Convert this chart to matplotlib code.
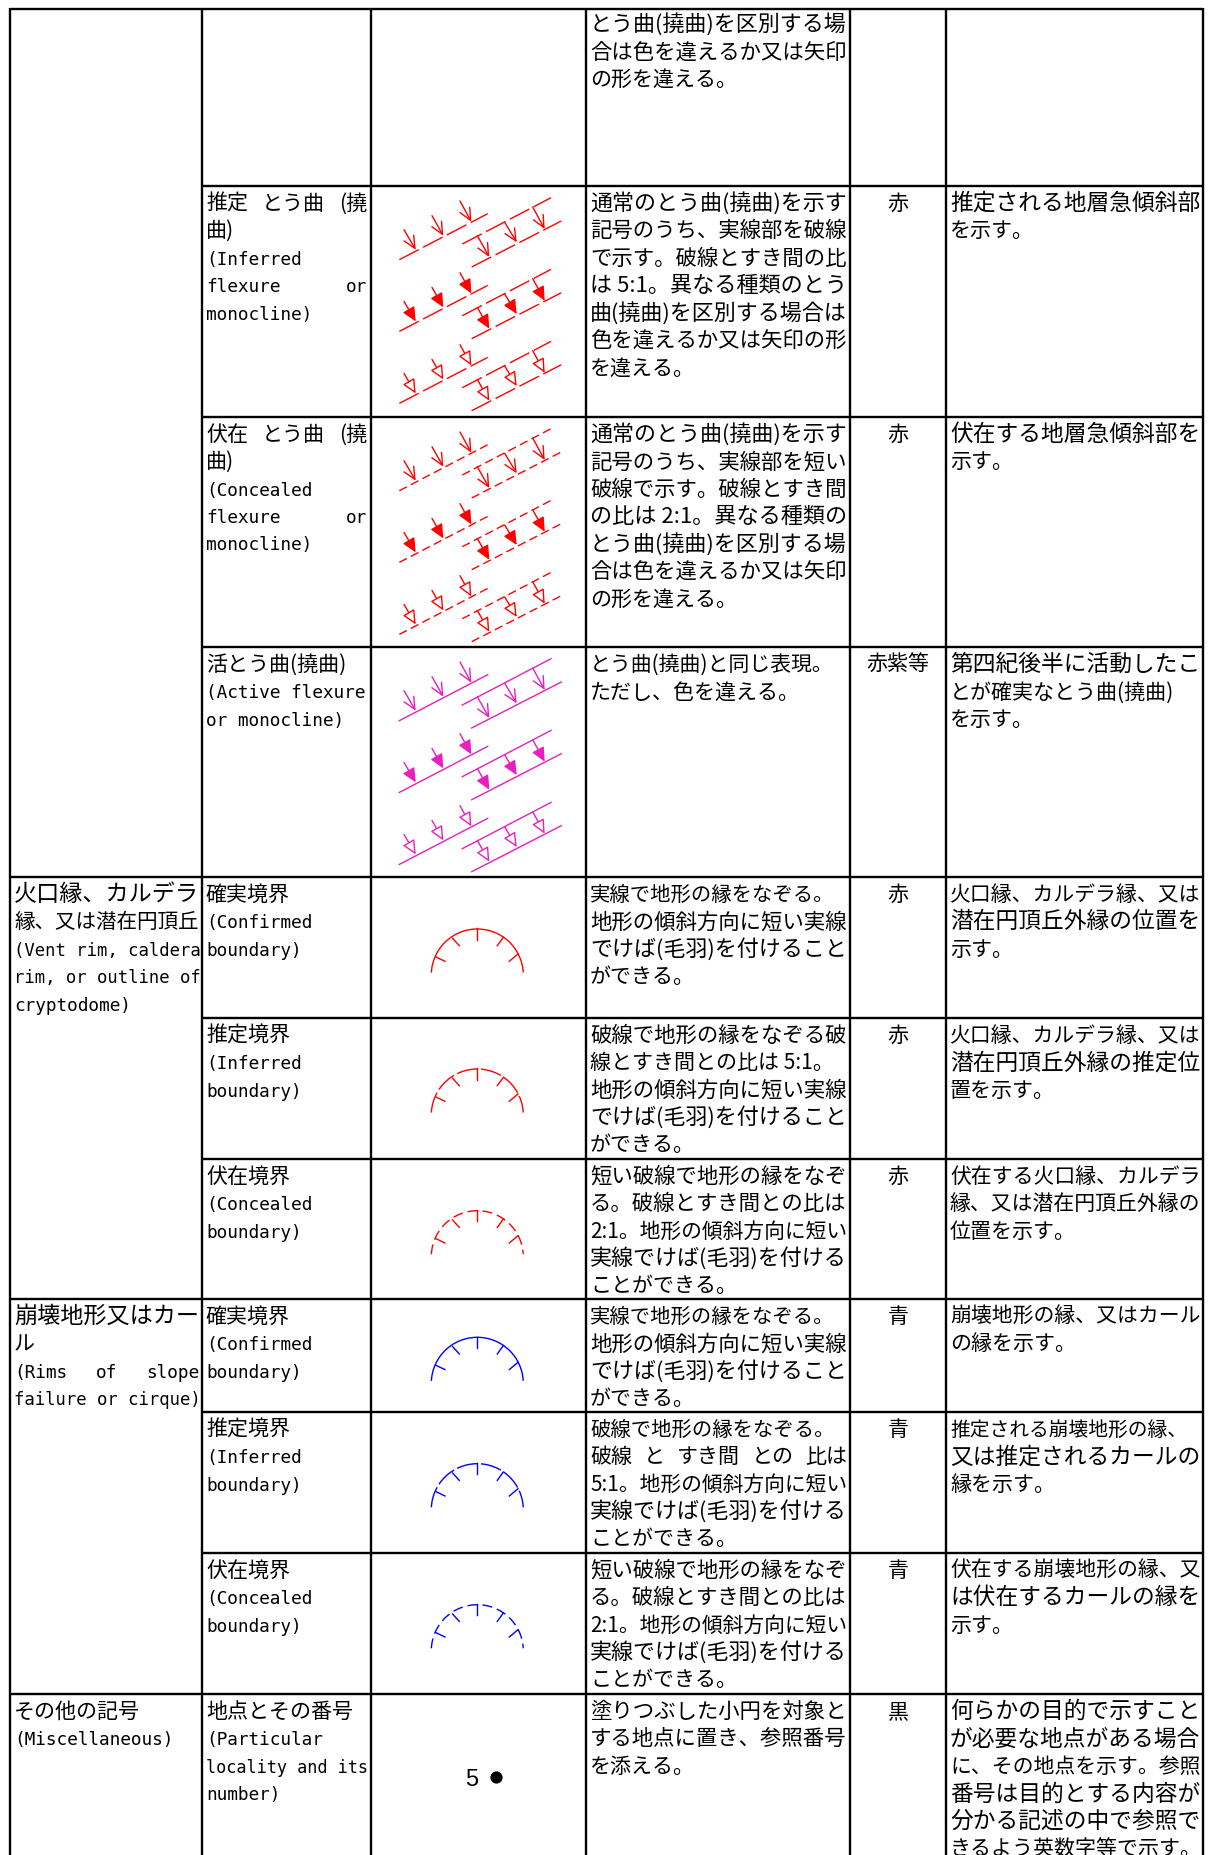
import matplotlib
matplotlib.use("Agg")
import matplotlib.pyplot as plt
from matplotlib.patches import Arc, FancyArrowPatch

# grid of the table, in pixels of the page
col_edges = [10, 202, 370.5, 586, 850, 946, 1203]
row_edges = [10, 186.7, 417.7, 648, 878, 1018.7, 1159.7, 1300, 1412.7, 1553.7, 1695]
col1_rules = [0, 4, 7, 10]
page_bottom = 1856

# text per row, "|" marks a line the original spreads over the full cell
group_text = {
    4: ["火口縁、カルデラ", "縁、又は潜在円頂丘", "(Vent rim, caldera", "rim, or outline of", "cryptodome)"],
    7: ["崩壊地形又はカー", "ル", "(Rims|of|slope", "failure or cirque)"],
    10: ["その他の記号", "(Miscellaneous)"],
}
name_text = [
    [],
    ["推定|とう曲|(撓", "曲)", "(Inferred", "flexure|or", "monocline)"],
    ["伏在|とう曲|(撓", "曲)", "(Concealed", "flexure|or", "monocline)"],
    ["活とう曲(撓曲)", "(Active flexure", "or monocline)"],
    ["確実境界", "(Confirmed", "boundary)"],
    ["推定境界", "(Inferred", "boundary)"],
    ["伏在境界", "(Concealed", "boundary)"],
    ["確実境界", "(Confirmed", "boundary)"],
    ["推定境界", "(Inferred", "boundary)"],
    ["伏在境界", "(Concealed", "boundary)"],
    ["地点とその番号", "(Particular", "locality and its", "number)"],
]
rule_text = [
    ["とう曲(撓曲)を区別する場", "合は色を違えるか又は矢印", "の形を違える。"],
    ["通常のとう曲(撓曲)を示す", "記号のうち、実線部を破線", "で示す。破線とすき間の比", "は 5:1。異なる種類のとう",
     "曲(撓曲)を区別する場合は", "色を違えるか又は矢印の形", "を違える。"],
    ["通常のとう曲(撓曲)を示す", "記号のうち、実線部を短い", "破線で示す。破線とすき間", "の比は 2:1。異なる種類の",
     "とう曲(撓曲)を区別する場", "合は色を違えるか又は矢印", "の形を違える。"],
    ["とう曲(撓曲)と同じ表現。", "ただし、色を違える。"],
    ["実線で地形の縁をなぞる。", "地形の傾斜方向に短い実線", "でけば(毛羽)を付けること", "ができる。"],
    ["破線で地形の縁をなぞる破", "線とすき間との比は 5:1。", "地形の傾斜方向に短い実線", "でけば(毛羽)を付けること", "ができる。"],
    ["短い破線で地形の縁をなぞ", "る。破線とすき間との比は", "2:1。地形の傾斜方向に短い", "実線でけば(毛羽)を付ける", "ことができる。"],
    ["実線で地形の縁をなぞる。", "地形の傾斜方向に短い実線", "でけば(毛羽)を付けること", "ができる。"],
    ["破線で地形の縁をなぞる。", "破線|と|すき間|との|比は", "5:1。地形の傾斜方向に短い", "実線でけば(毛羽)を付ける", "ことができる。"],
    ["短い破線で地形の縁をなぞ", "る。破線とすき間との比は", "2:1。地形の傾斜方向に短い", "実線でけば(毛羽)を付ける", "ことができる。"],
    ["塗りつぶした小円を対象と", "する地点に置き、参照番号", "を添える。"],
]
color_text = ["", "赤", "赤", "赤紫等", "赤", "赤", "赤", "青", "青", "青", "黒"]
note_text = [
    [],
    ["推定される地層急傾斜部", "を示す。"],
    ["伏在する地層急傾斜部を", "示す。"],
    ["第四紀後半に活動したこ", "とが確実なとう曲(撓曲)", "を示す。"],
    ["火口縁、カルデラ縁、又は", "潜在円頂丘外縁の位置を", "示す。"],
    ["火口縁、カルデラ縁、又は", "潜在円頂丘外縁の推定位", "置を示す。"],
    ["伏在する火口縁、カルデラ", "縁、又は潜在円頂丘外縁の", "位置を示す。"],
    ["崩壊地形の縁、又はカール", "の縁を示す。"],
    ["推定される崩壊地形の縁、", "又は推定されるカールの", "縁を示す。"],
    ["伏在する崩壊地形の縁、又", "は伏在するカールの縁を", "示す。"],
    ["何らかの目的で示すこと", "が必要な地点がある場合", "に、その地点を示す。参照", "番号は目的とする内容が",
     "分かる記述の中で参照で", "きるよう英数字等で示す。"],
]

# flexure symbols: three fold lines and six arrows, repeated three times per cell
flex_lines = [
    [(399.3, 260.7), (487.7, 214.7)],
    [(462.3, 245.0), (551.0, 198.7)],
    [(471.7, 268.0), (561.3, 222.0)],
]
flex_tails = [(404.0, 230.7), (432.0, 216.7), (460.0, 202.0), (477.3, 236.7), (504.7, 223.3), (532.7, 208.0)]
flex_tips = [(415.7, 250.7), (443.3, 236.7), (471.3, 222.7), (489.3, 258.0), (516.7, 243.3), (544.7, 230.0)]
flex_row_shift = [0, 231, 461]
flex_set_shift = [0, 71.7, 143.7]
flex_colors = ["#ff0000", "#ff0000", "#e61fbd"]
flex_dash_px = [(22, 4.8), (8.5, 4.5), None]

# rim symbols: top of the arc for each row, with hachure ticks relative to it
rim_center_x = 477.3
rim_tops = [930, 1070, 1211.7, 1338.3, 1464.7, 1605.7]
rim_colors = ["#ff0000", "#ff0000", "#ff0000", "#0000ff", "#0000ff", "#0000ff"]
rim_dash_px = [None, (21, 3.5), (10, 5), None, (21, 3.5), (10, 5)]
rim_radius = 46
rim_ticks = [
    (0, -0.7, 0, 10.7),
    (-24.7, 9.3, -18, 16.7),
    (-41.3, 28, -32.3, 32.3),
    (26, 8.3, 20, 16.7),
    (40.7, 25, 32, 32.3),
]

locality_number = "5"
locality_xy = (495.6, 1778)

CJK = "Noto Sans CJK JP"
LATIN = "DejaVu Sans Mono"
CJK_PT = 21 * 0.72
LATIN_PT = 17.8 * 0.72
LINE_PX = 27.45
PAD = 4
PX = 0.72  # points per pixel at dpi 100

fig = plt.figure(figsize=(12.08, 18.56), dpi=100, facecolor="white")
ax = fig.add_axes([0, 0, 1, 1])
ax.set_xlim(0, 1208)
ax.set_ylim(1856, 0)
ax.axis("off")
renderer = fig.canvas.get_renderer()


def put(s, x, y, ha="left", size=None):
    latin = s.isascii()
    pt = size or (LATIN_PT if latin else CJK_PT)
    return ax.text(x, y, s, ha=ha, va="baseline", fontsize=pt, color="black",
                   family=[LATIN if latin else CJK, "DejaVu Sans"])


def width_of(t):
    return t.get_window_extent(renderer).width


def draw_line(s, x0, x1, y, fit):
    room = x1 - x0
    if "|" in s:
        # spread the pieces over the whole cell
        parts = [put(p, x0, y) for p in s.split("|")]
        widths = [width_of(p) for p in parts]
        gap = (room - sum(widths)) / (len(parts) - 1)
        x = x0
        for p, w in zip(parts, widths):
            p.set_x(x)
            x += w + gap
        return
    t = put(s, x0, y)
    w = width_of(t)
    if s.isascii():
        if w > room:
            t.set_fontsize(t.get_fontsize() * room / w)
        return
    target = room - 13 if s[-1] in "。、" else room
    if fit and w >= 0.9 * room:
        t.set_fontsize(t.get_fontsize() * min(1.12, max(0.9, target / w)))


def draw_cell(lines, col, row):
    top = row_edges[row]
    first = 23.5 if row == 0 else top + 15.5
    for i, s in enumerate(lines):
        # only lines running on to another Japanese line are justified in the original
        fit = i + 1 < len(lines) and not lines[i + 1].isascii()
        if lines[i + 1:] and lines[i + 1].isascii() and w_over(s, col):
            fit = True
        draw_line(s, col_edges[col] + PAD, col_edges[col + 1] - PAD + 1, first + i * LINE_PX + 7.5, fit)


def w_over(s, col):
    # a Japanese line wider than its cell is always pulled back in
    probe = put(s, 0, 0)
    w = width_of(probe)
    probe.remove()
    return not s.isascii() and w > col_edges[col + 1] - col_edges[col] - PAD * 2 + 1


# table rules
ax.hlines(row_edges, col_edges[1], col_edges[-1], color="black", lw=1.7)
ax.hlines([row_edges[r] for r in col1_rules], col_edges[0], col_edges[1], color="black", lw=1.7)
ax.vlines(col_edges, row_edges[0] - 1, page_bottom, color="black", lw=1.7)

# text columns
for row, lines in group_text.items():
    draw_cell(lines, 0, row)
for row in range(len(row_edges)):
    draw_cell(name_text[row], 1, row)
    draw_cell(rule_text[row], 3, row)
    draw_cell(note_text[row], 5, row)
    if color_text[row]:
        put(color_text[row], (col_edges[4] + col_edges[5]) / 2, row_edges[row] + 15.5 + 7.5, ha="center")

# flexure symbols
for row_dy, color, dash in zip(flex_row_shift, flex_colors, flex_dash_px):
    ls = "-" if dash is None else (0, (dash[0] * PX, dash[1] * PX))
    for k, set_dy in enumerate(flex_set_shift):
        dy = row_dy + set_dy
        for (xa, ya), (xb, yb) in flex_lines:
            ax.plot([xa, xb], [ya + dy, yb + dy], color=color, lw=1, ls=ls, dash_capstyle="butt")
        for (xa, ya), (xb, yb) in zip(flex_tails, flex_tips):
            style = "->,head_length=0.85,head_width=0.4" if k == 0 else "-|>,head_length=0.85,head_width=0.4"
            ax.add_patch(FancyArrowPatch((xa, ya + dy), (xb, yb + dy), arrowstyle=style, mutation_scale=10,
                                         shrinkA=0, shrinkB=0, lw=1, edgecolor=color,
                                         facecolor="white" if k == 2 else color, zorder=3))

# rim symbols
for top, color, dash in zip(rim_tops, rim_colors, rim_dash_px):
    ls = "-" if dash is None else (0, (dash[0] * PX, dash[1] * PX))
    ax.add_patch(Arc((rim_center_x, top + rim_radius), 2 * rim_radius, 2 * rim_radius, theta1=183, theta2=357,
                     edgecolor=color, lw=1, ls=ls))
    for xa, ya, xb, yb in rim_ticks:
        ax.plot([rim_center_x + xa, rim_center_x + xb], [top + ya, top + yb], color=color, lw=1)

# locality mark
ax.text(472, locality_xy[1] + 8.5, locality_number, ha="center", va="baseline", fontsize=17,
        family="Liberation Sans", color="black")
ax.plot([locality_xy[0]], [locality_xy[1]], "o", color="black", ms=8.8, mew=0)

fig.savefig("out.png", dpi=100)
